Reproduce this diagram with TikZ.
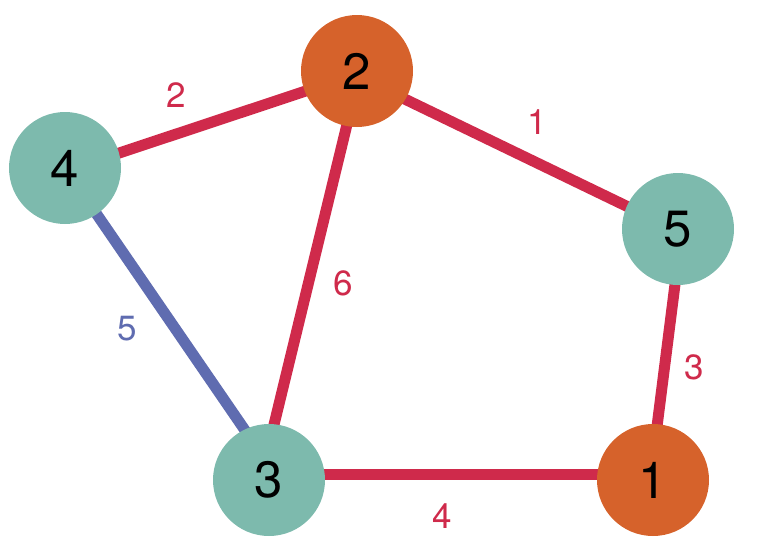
\documentclass[tikz,border=0pt]{standalone}
\usepackage{fontspec}
\setmainfont{TeX Gyre Heros}
\usepackage{tikz}
\usetikzlibrary{positioning,backgrounds}
\definecolor{vtxOrange}{RGB}{214,98,43}
\definecolor{vtxTeal}{RGB}{125,186,173}
\definecolor{edgeRed}{RGB}{207,42,75}
\definecolor{edgeBlue}{RGB}{95,108,176}

\begin{document}
\begin{tikzpicture}[x=1pt,y=-1pt,
  vtx/.style={circle,minimum size=112pt,inner sep=0pt,font=\fontsize{51}{51}\selectfont},
  hot/.style={vtx,fill=vtxOrange},
  cool/.style={vtx,fill=vtxTeal},
  wedge/.style={line width=11pt,draw=edgeRed},
  wlabel/.style={font=\fontsize{35}{35}\selectfont,text=edgeRed}
]
  \useasboundingbox (0,0) rectangle (758,554);
  \node[hot] (n2) at (357,71) {2};
  \node[cool] (n4) at (65,168) {4};
  \node[cool] (n5) at (678,229) {5};
  \node[cool] (n3) at (269,480) {3};
  \node[hot] (n1) at (653,480) {1};

  \begin{scope}[on background layer]
    \draw[wedge] ([shift={(0,3)}]n4.center) -- ([shift={(0,3)}]n2.center);
    \draw[wedge] ([shift={(0,5)}]n2.center) -- ([shift={(0,2)}]n5.center);
    \draw[wedge] ([shift={(3,0)}]n2.center) -- ([shift={(-7,-6)}]n3.center);
    \draw[wedge] ([shift={(4,0)}]n5.center) -- ([shift={(-2,-6)}]n1.center);
    \draw[wedge] ([shift={(0,-6)}]n3.center) -- ([shift={(0,-6)}]n1.center);
    \draw[wedge,draw=edgeBlue] (n4.center) -- ([shift={(6,-6)}]n3.center);
  \end{scope}

  \node[wlabel] (l42) at (176,95) {2};
  \node[wlabel] (l25) at (537,122) {1};
  \node[wlabel] (l23) at (343,283) {6};
  \node[wlabel,text=edgeBlue] (l43) at (127,329) {5};
  \node[wlabel] (l51) at (694,367) {3};
  \node[wlabel] (l31) at (442,516) {4};
\end{tikzpicture}
\end{document}
